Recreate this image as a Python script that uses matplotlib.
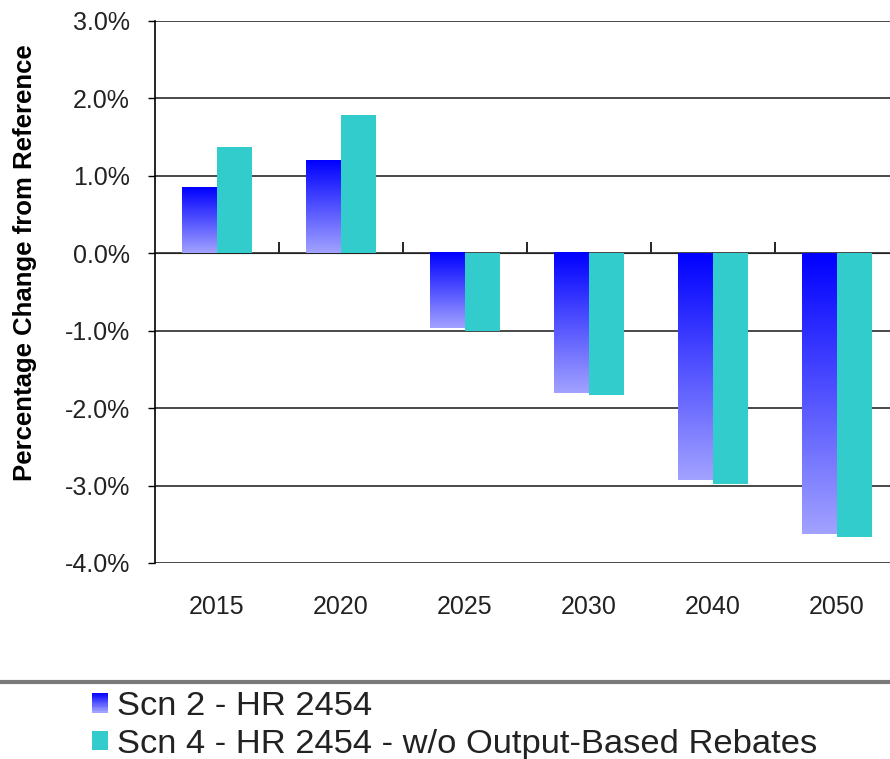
import numpy as np
import matplotlib
matplotlib.use('Agg')
import matplotlib.pyplot as plt
from matplotlib.patches import Rectangle
from matplotlib.lines import Line2D
from matplotlib.legend_handler import HandlerBase
from matplotlib.colors import LinearSegmentedColormap

years = ['2015', '2020', '2025', '2030', '2040', '2050']
scn2 = [0.84, 1.19, -0.97, -1.81, -2.93, -3.62]
scn4 = [1.37, 1.78, -1.00, -1.83, -2.98, -3.66]
labels = ['Scn 2 - HR 2454', 'Scn 4 - HR 2454 - w/o Output-Based Rebates']
yticks = [3, 2, 1, 0, -1, -2, -3, -4]

plt.rcParams['font.family'] = ['Liberation Sans', 'DejaVu Sans']

blue_grad = LinearSegmentedColormap.from_list('bg', ['#0000FF', '#A2A2FF'])
teal = '#33CCCC'


class GradientHandler(HandlerBase):
    # legend key with the same top-to-bottom fade as the bars
    def create_artists(self, legend, orig_handle, xdescent, ydescent,
                       width, height, fontsize, trans):
        n = 24
        arts = []
        for i, c in enumerate(blue_grad(np.linspace(0, 1, n))):
            y0 = -ydescent + height * (1 - (i + 1) / n)
            arts.append(Rectangle((-xdescent, y0), width, height / n + 0.2,
                                  facecolor=c, edgecolor='none', transform=trans))
        return arts


fig = plt.figure(figsize=(8.9, 7.59), dpi=100)
ax = fig.add_axes([155 / 890, 196 / 759, 744 / 890, 542 / 759])

x = np.arange(len(years))
w = 0.28
ax.bar(x + w / 2, scn4, w, color=teal, zorder=3)
bars = ax.bar(x - w / 2, scn2, w, color='none', zorder=3)
grad = np.linspace(0, 1, 256).reshape(-1, 1)
for b in bars:
    x0, y0, h = b.get_x(), b.get_y(), b.get_height()
    lo, hi = min(y0, y0 + h), max(y0, y0 + h)
    ax.imshow(grad, cmap=blue_grad, extent=[x0, x0 + b.get_width(), lo, hi],
              aspect='auto', origin='upper', zorder=3)

ax.set_xlim(-0.5, len(years) - 0.5)
ax.set_ylim(-4, 3)
ax.set_yticks(yticks)
ax.set_yticklabels([f'{v:.1f}%' for v in yticks])
ax.set_xticks(x)
ax.set_xticklabels(years)
ax.tick_params(axis='x', length=0, pad=23, labelsize=18, colors='#222222')
ax.tick_params(axis='y', direction='out', length=5, width=1, pad=13,
               labelsize=18, colors='black', labelcolor='#222222')
ax.yaxis.grid(True, color='#2a2a2a', lw=1.2)
ax.set_axisbelow(True)
for s in ['top', 'right', 'bottom']:
    ax.spines[s].set_visible(False)
ax.spines['left'].set_linewidth(1.2)

# category axis crossing at zero, tick marks between groups
sec = ax.secondary_xaxis(4 / 7)
sec.set_xticks(x[:-1] + 0.5)
sec.set_xticklabels([])
sec.tick_params(direction='out', length=8, width=1.2)
sec.spines['bottom'].set_linewidth(1.2)

ax.set_ylabel('Percentage Change from Reference', fontsize=18.5,
              fontweight='bold')
ax.yaxis.set_label_coords(-0.1586, 0.555)

fig.add_artist(Line2D([0, 1], [1 - 682 / 759] * 2, transform=fig.transFigure,
                      color='#7a7a7a', lw=3))

h2 = Rectangle((0, 0), 1, 1)
h4 = Rectangle((0, 0), 1, 1, facecolor=teal, edgecolor='none')
fig.legend([h2, h4], labels, loc='upper left',
           bbox_to_anchor=(92 / 890, 1 - 691 / 759), frameon=False,
           fontsize=24.8, handlelength=0.47, handleheight=0.5,
           handletextpad=0.25, labelspacing=0.2, borderpad=0,
           borderaxespad=0, handler_map={h2: GradientHandler()},
           labelcolor='#222222')

fig.savefig('out.png', dpi=100)
